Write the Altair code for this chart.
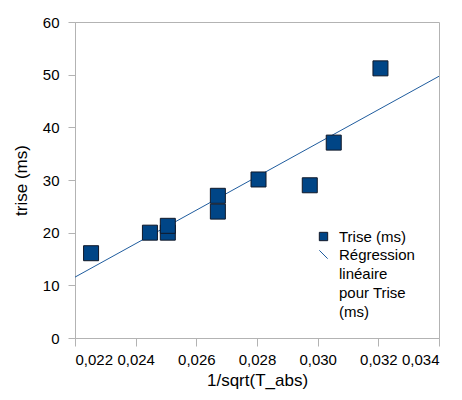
import altair as alt
import pandas as pd

# data
x_vals = [0.02253, 0.02447, 0.02506, 0.02506, 0.02671, 0.02671, 0.02805, 0.02974, 0.03053, 0.03207]
y_vals = [16.1, 20.0, 20.0, 21.3, 24.0, 27.0, 30.1, 29.0, 37.1, 51.2]
reg_x = [0.022, 0.034]
reg_y = [11.56, 49.7]
series = ["Trise (ms)", "Régression linéaire pour Trise (ms)"]
x_ticks = [0.022, 0.024, 0.026, 0.028, 0.030, 0.032, 0.034]
y_ticks = [0, 10, 20, 30, 40, 50, 60]

pts = pd.DataFrame({"x": x_vals, "y": y_vals, "s": series[0]})
reg = pd.DataFrame({"x": reg_x, "y": reg_y})

FONT = "Liberation Sans"
GRAY = "#b3b3b3"
BLUE = "#004586"
LINE = "#1f5c9e"
EDGE = "#101828"

xenc = alt.X("x:Q", scale=alt.Scale(domain=[0.022, 0.034], nice=False, zero=False),
             axis=alt.Axis(values=x_ticks, title="1/sqrt(T_abs)", grid=False,
                           labelExpr="replace(format(datum.value, '.3f'), '.', ',')",
                           tickSize=8, labelPadding=6, titlePadding=5))
yenc = alt.Y("y:Q", scale=alt.Scale(domain=[0, 60], nice=False),
             axis=alt.Axis(values=y_ticks, title="trise (ms)", grid=False,
                           tickSize=7, labelPadding=9, titlePadding=12))

line = alt.Chart(reg).mark_line(color=LINE, strokeWidth=1).encode(x=xenc, y=yenc)

leg = alt.Legend(
    title=None, orient="none", legendX=241, legendY=207,
    symbolSize=70, symbolStrokeWidth=1, labelOffset=8, padding=0, rowPadding=2,
    labelFontSize=15, labelFont=FONT, labelColor="#000",
    labelBaseline="middle", labelLimit=300,
    labelExpr="datum.label == 'Trise (ms)' ? 'Trise (ms)' : ['Régression', 'linéaire', 'pour Trise', '(ms)']",
)

points = alt.Chart(pts).mark_point(shape="square", filled=True, size=225, opacity=1,
                                   strokeWidth=1).encode(
    x=xenc, y=yenc,
    fill=alt.Fill("s:N", scale=alt.Scale(domain=series, range=[BLUE, BLUE]), legend=leg),
    stroke=alt.Stroke("s:N", scale=alt.Scale(domain=series, range=[EDGE, LINE]), legend=leg),
    shape=alt.Shape("s:N", scale=alt.Scale(domain=series, range=["square", "M-1,-1L1,1"]), legend=leg),
)

chart = alt.layer(line, points).properties(
    width=364, height=316,
    background="white",
    autosize=alt.AutoSizeParams(type="none"),
    padding={"left": 67, "top": 14, "right": 15, "bottom": 54},
).configure(
    style={"guide-label": {"lineHeight": 19}},
).configure_view(stroke=GRAY, strokeWidth=1).configure_axis(
    domainColor=GRAY, tickColor=GRAY, labelFont=FONT, titleFont=FONT,
    labelFontSize=15, titleFontSize=17, titleFontWeight="normal",
    labelColor="#000", titleColor="#000",
)

chart.save("out.html", embed_options={"renderer": "svg", "actions": False})
